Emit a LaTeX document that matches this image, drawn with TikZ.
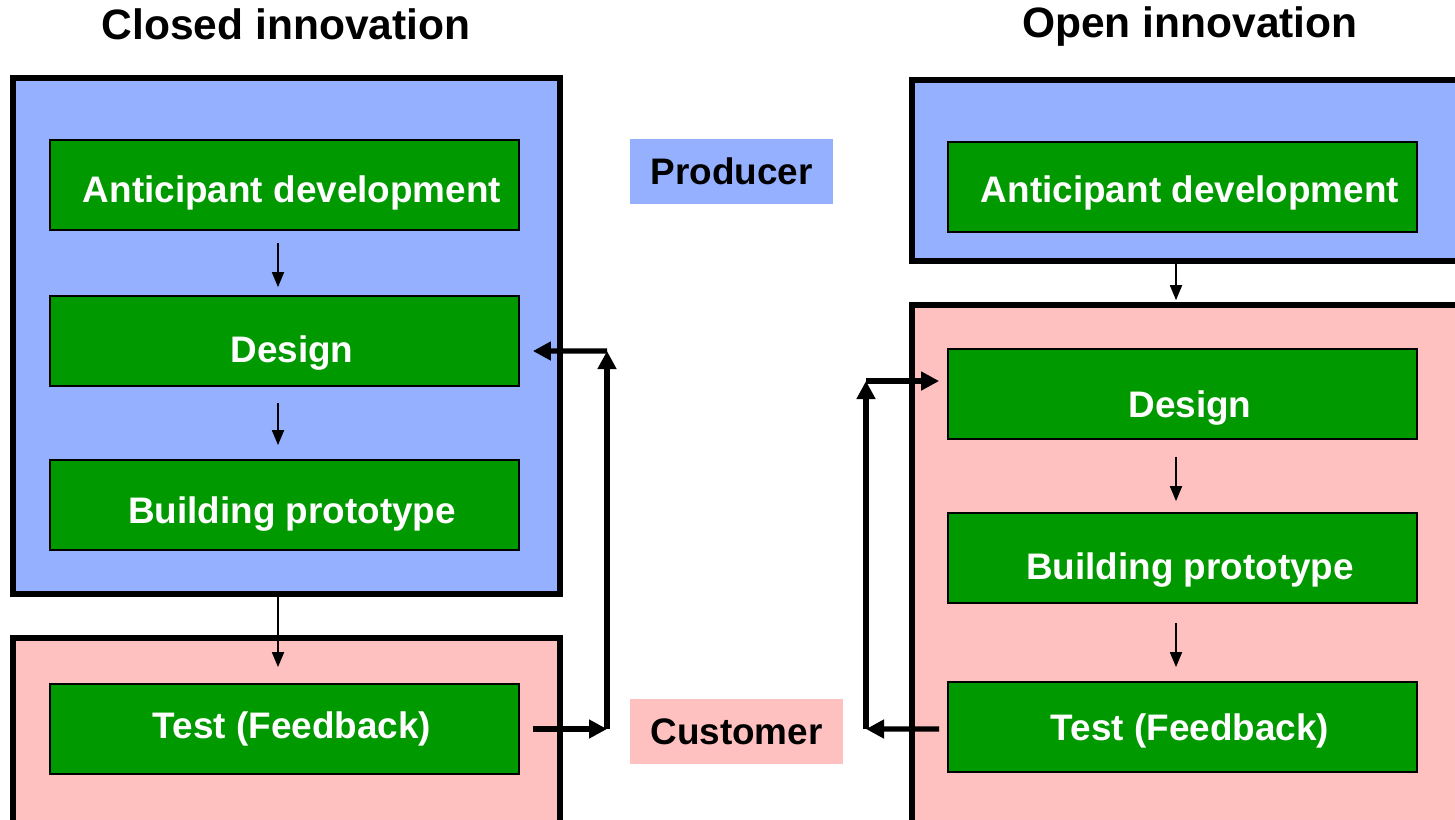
\documentclass[tikz,border=0pt]{standalone}
\usepackage{fontspec}
\setmainfont{Liberation Sans}
\usepackage{tikz}
\usetikzlibrary{arrows.meta, positioning, calc}
\definecolor{producerblue}{HTML}{94B0FF}
\definecolor{customerpink}{HTML}{FFC0C0}
\definecolor{stagegreen}{HTML}{009900}

\begin{document}
\begin{tikzpicture}[
  stage/.style={draw=black, line width=0.5pt, fill=stagegreen, text=white,
    minimum width=4.69cm, minimum height=0.9cm, inner sep=0pt,
    text height=#1, text depth=2.2pt,
    font=\fontsize{10.5}{12}\selectfont\bfseries,
    execute at begin node=\hspace*{1.5mm}},
  stage/.default=7.6pt,
  frame/.style={draw=black, line width=1.6pt, inner sep=0pt},
  role/.style={inner sep=0pt, font=\fontsize{10.5}{12}\selectfont\bfseries},
  heading/.style={font=\fontsize{12.1}{14}\selectfont\bfseries},
  flow/.style={line width=0.5pt, -{Triangle[length=1.5mm,width=1.2mm]}},
  loop/.style={line width=1.5pt, -{Triangle[length=1.8mm,width=1.8mm]}}
]
  \useasboundingbox (0,0) rectangle (14.55,-8.19);

  % Titles
  \node[heading] (closed) at (2.86,-0.24) {Closed innovation};
  \node[heading] (open) at (11.90,-0.26) {Open innovation};

  % Frames (producer / customer)
  \node[frame, fill=producerblue, minimum width=5.47cm, minimum height=5.16cm] (blueL) at (2.865,-3.36) {};
  \node[frame, fill=customerpink, minimum width=5.47cm, minimum height=1.92cm] (pinkL) at (2.865,-7.34) {};
  \node[frame, fill=producerblue, minimum width=5.58cm, minimum height=1.81cm] (blueR) at (11.91,-1.705) {};
  \node[frame, fill=customerpink, minimum width=5.58cm, minimum height=5.25cm] (pinkR) at (11.91,-5.675) {};

  % Legend
  \node[role, fill=producerblue, minimum width=2.03cm, minimum height=0.65cm] (producer) at (7.315,-1.715) {Producer};
  \node[role, fill=customerpink, minimum width=2.13cm, minimum height=0.65cm] (customer) at (7.365,-7.315) {Customer};

  % Closed innovation stages
  \node[stage=12pt] (adL) at (2.845,-1.85) {Anticipant development};
  \node[stage=14.4pt] (designL) at (2.845,-3.41) {Design};
  \node[stage=12.8pt] (buildL) at (2.845,-5.05) {Building prototype};
  \node[stage] (testL) at (2.845,-7.29) {Test (Feedback)};

  % Open innovation stages
  \node[stage=11.2pt] (adR) at (11.825,-1.87) {Anticipant development};
  \node[stage=15.6pt] (designR) at (11.825,-3.94) {Design};
  \node[stage=14.2pt] (buildR) at (11.825,-5.58) {Building prototype};
  \node[stage=9.6pt] (testR) at (11.825,-7.27) {Test (Feedback)};

  % Thin flow arrows
  \draw[flow, shorten <=1.2mm, shorten >=0.8mm] ([xshift=-0.65mm]adL.south) -- ([xshift=-0.65mm]designL.north);
  \draw[flow, shorten <=1.6mm, shorten >=1.4mm] ([xshift=-0.65mm]designL.south) -- ([xshift=-0.65mm]buildL.north);
  \draw[flow, shorten >=1.6mm] ($(testL.north |- blueL.south)+(-0.065,0)$) -- ([xshift=-0.65mm]testL.north);
  \draw[flow, shorten >=0.2mm] ($(adR.south |- blueR.south)+(-0.065,0)$) -- ($(adR.south |- pinkR.north)+(-0.065,0)$);
  \draw[flow, shorten <=1.7mm, shorten >=1.1mm] ([xshift=-0.65mm]designR.south) -- ([xshift=-0.65mm]buildR.north);
  \draw[flow, shorten <=1.9mm, shorten >=1.4mm] ([xshift=-0.65mm]buildR.south) -- ([xshift=-0.65mm]testR.north);

  % Feedback loops
  \coordinate (loopL1) at (6.07,-7.29);
  \coordinate (loopL2) at (6.07,-3.51);
  \draw[loop] ($(testL.east)+(0.13,0)$) -- (loopL1);
  \draw[loop] (loopL1) -- (loopL2);
  \draw[loop] (loopL2) -- ($(designL.east)+(0.13,-0.1)$);

  \coordinate (loopR1) at (8.66,-7.29);
  \coordinate (loopR2) at (8.66,-3.81);
  \draw[loop] ($(testR.west)+(-0.08,-0.02)$) -- (loopR1);
  \draw[loop] (loopR1) -- (loopR2);
  \draw[loop] (loopR2) -- ($(designR.west)+(-0.08,0.13)$);
\end{tikzpicture}
\end{document}
